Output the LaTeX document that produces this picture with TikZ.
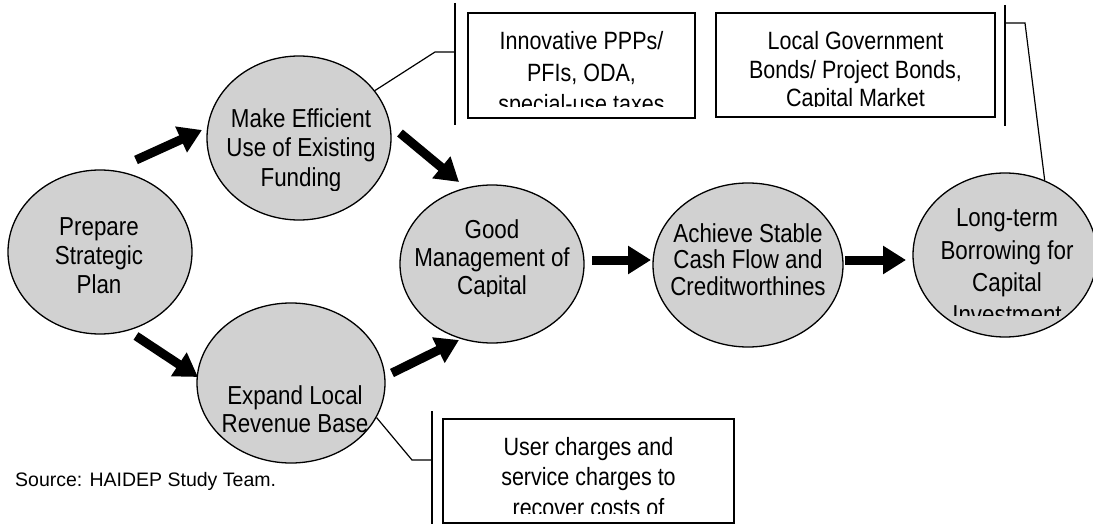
\documentclass[tikz,border=0pt]{standalone}
\usepackage{fontspec}
\setmainfont{Liberation Sans}
\newfontfamily\narrowfont[FakeStretch=0.86]{Liberation Sans}
\usetikzlibrary{shapes.geometric,arrows.meta}

\tikzset{
  bubble/.style={ellipse, draw=black, line width=1.3pt, fill=gray!36,
                 inner sep=0pt, minimum width=#1},
  bubble/.default=184pt,
  frame/.style={draw=black, line width=1.3pt},
  bar/.style={draw=black, line width=1.5pt},
  lead/.style={draw=black, line width=1.2pt},
  flow/.style={line width=9pt, -{Triangle[length=23pt, width=27pt]}},
  lbl/.style={font=\narrowfont\fontsize{26}{29}\selectfont, anchor=base,
              inner sep=0pt, text=black},
  boxlbl/.style={lbl, font=\narrowfont\fontsize{25}{29}\selectfont},
}

\begin{document}
\begin{tikzpicture}[x=1pt, y=-1pt]
\useasboundingbox (0,0) rectangle (1093,524);

% ---- process bubbles ----
\node[bubble, minimum height=164pt] (prep) at (100,252) {};
\node[bubble, minimum height=164pt] (make) at (299,138) {};
\node[bubble, minimum height=160pt, minimum width=188pt] (expand) at (291,383) {};
\node[bubble, minimum height=158pt] (good) at (492,264) {};
\node[bubble, minimum height=164pt, minimum width=190pt] (stable) at (748,265) {};
\node[bubble, minimum height=164pt] (borrow) at (1005,255) {};

% ---- bubble texts ----
\node[lbl] (prep1) at (99,236) {Prepare};
\node[lbl] (prep2) at (99,264.5) {Strategic};
\node[lbl] (prep3) at (99,293) {Plan};

\begin{scope}
  \clip (200,60) rectangle (400,191);
  \node[lbl] (make1) at (301,128) {Make Efficient};
  \node[lbl] (make2) at (301,157) {Use of Existing};
  \node[lbl] (make3) at (301,186) {Funding};
\end{scope}

\node[lbl] (exp1) at (295,404) {Expand Local};
\node[lbl] (exp2) at (295,432) {Revenue Base};

\begin{scope}
  \clip (400,190) rectangle (590,296);
  \node[lbl] (good1) at (492,238) {Good};
  \node[lbl] (good2) at (492,266) {Management of};
  \node[lbl] (good3) at (492,294) {Capital};
\end{scope}

\node[lbl] (st1) at (748,242) {Achieve Stable};
\node[lbl] (st2) at (748,268.5) {Cash Flow and};
\node[lbl] (st3) at (748,295) {Creditworthines};

\begin{scope}
  \clip (900,180) rectangle (1093,315);
  \node[lbl] (bor1) at (1007,226) {Long-term};
  \node[lbl] (bor2) at (1007,259) {Borrowing for};
  \node[lbl] (bor3) at (1007,291) {Capital};
  \node[lbl] (bor4) at (1007,323) {Investment};
\end{scope}

% ---- funding source boxes ----
\node[frame, minimum width=227pt, minimum height=105pt, inner sep=0pt] (boxA) at (581.5,65.5) {};
\node[frame, minimum width=279pt, minimum height=104pt, inner sep=0pt] (boxB) at (855.5,65) {};
\node[frame, minimum width=291pt, minimum height=104pt, inner sep=0pt] (boxC) at (588.5,471) {};

\begin{scope}
  \clip (470,15) rectangle (693,107);
  \node[boxlbl] (a1) at (581.5,50) {Innovative PPPs/};
  \node[boxlbl] (a2) at (581.5,82) {PFIs, ODA,};
  \node[boxlbl] (a3) at (581.5,113) {special-use taxes};
\end{scope}

\begin{scope}
  \clip (718,15) rectangle (993,107);
  \node[boxlbl] (b1) at (855.5,50) {Local Government};
  \node[boxlbl] (b2) at (855.5,78.5) {Bonds/ Project Bonds,};
  \node[boxlbl] (b3) at (855.5,107) {Capital Market};
\end{scope}

\begin{scope}
  \clip (445,421) rectangle (732,513);
  \node[boxlbl] (c1) at (588.5,455) {User charges and};
  \node[boxlbl] (c2) at (588.5,485) {service charges to};
  \node[boxlbl] (c3) at (588.5,516) {recover costs of};
\end{scope}

% ---- bracket bars beside the boxes ----
\coordinate (barAt) at (455,3);   \coordinate (barAb) at (455,125);
\coordinate (barBt) at (1005,5);  \coordinate (barBb) at (1005,126);
\coordinate (barCt) at (432,411); \coordinate (barCb) at (432,524);
\draw[bar] (barAt) -- (barAb);
\draw[bar] (barBt) -- (barBb);
\draw[bar] (barCt) -- (barCb);

% ---- leader lines from bubbles to bars ----
\coordinate (kA) at (435,52);  \coordinate (jA) at (455,52);
\coordinate (kB) at (1025,23); \coordinate (jB) at (1005,23);
\coordinate (kC) at (412,460); \coordinate (jC) at (432,460);
\draw[lead] (make.32) -- (kA) -- (jA);
\draw[lead] (jB) -- (kB) -- (borrow.62);
\draw[lead] (expand.-22) -- (kC) -- (jC);

% ---- flow arrows ----
\coordinate (f1s) at (136,160); \coordinate (f1e) at (202,130);
\coordinate (f2s) at (136,336); \coordinate (f2e) at (198,377);
\coordinate (f3s) at (400,133); \coordinate (f3e) at (459,182);
\coordinate (f4s) at (392,373); \coordinate (f4e) at (459,340);
\coordinate (f5s) at (592,260); \coordinate (f5e) at (651,260);
\coordinate (f6s) at (845,260); \coordinate (f6e) at (906,260);
\draw[flow] (f1s) -- (f1e);
\draw[flow] (f2s) -- (f2e);
\draw[flow] (f3s) -- (f3e);
\draw[flow] (f4s) -- (f4e);
\draw[flow] (f5s) -- (f5e);
\draw[flow] (f6s) -- (f6e);

% ---- source note ----
\node[font=\fontsize{19.5}{23}\selectfont, anchor=base west, inner sep=0pt] (src)
  at (15,486) {Source: HAIDEP Study Team.};
\end{tikzpicture}
\end{document}
